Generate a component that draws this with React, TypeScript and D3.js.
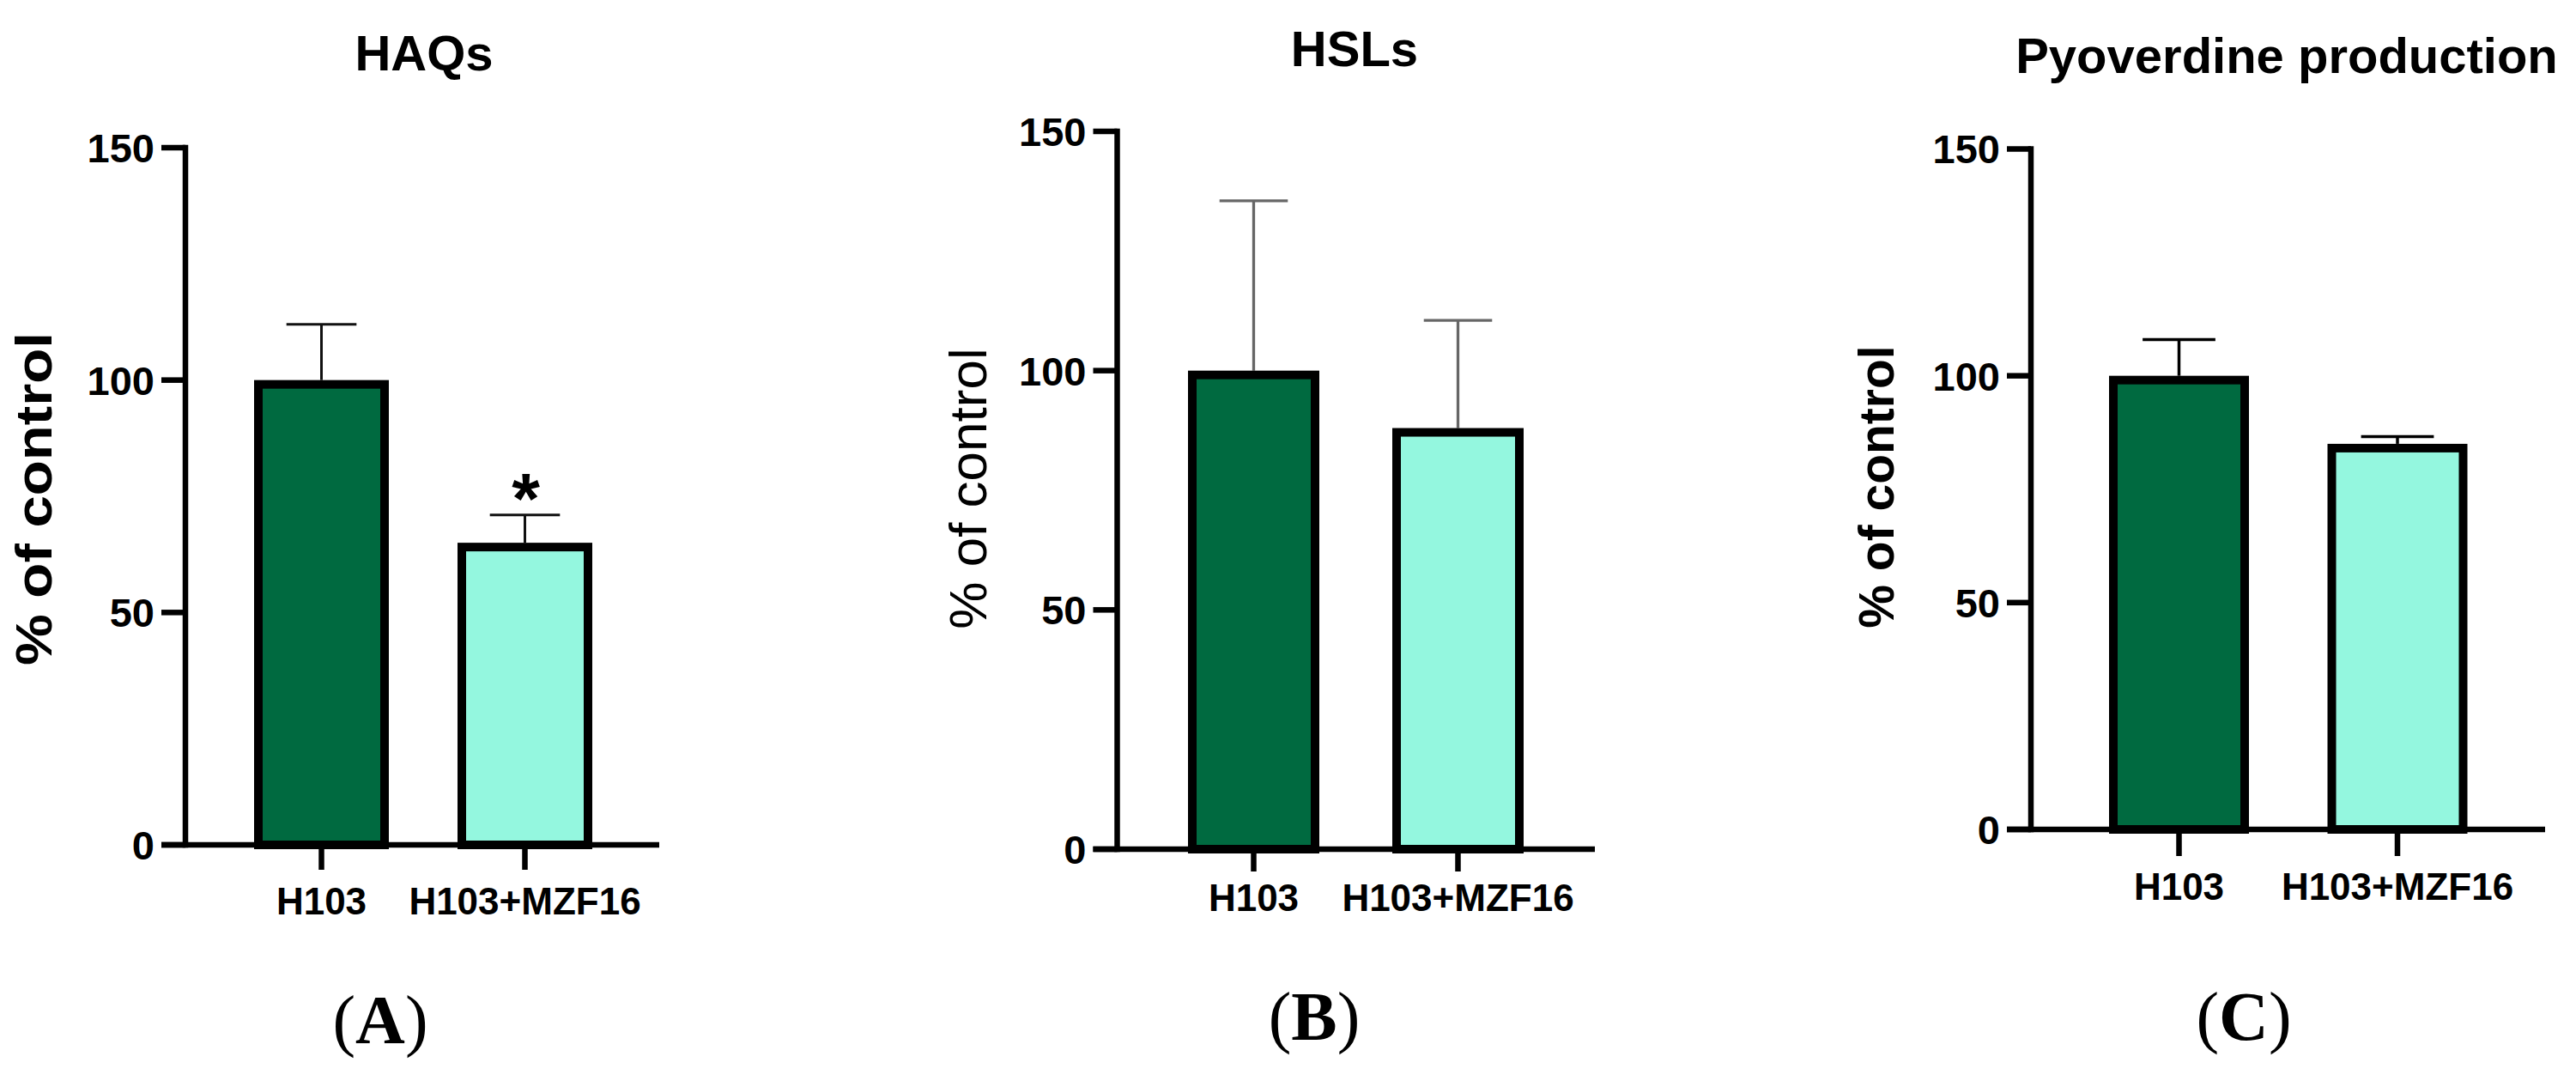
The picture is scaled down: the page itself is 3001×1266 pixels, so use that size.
import React from "react";
import { scaleLinear, scalePoint } from "d3";

const groups = ["H103", "H103+MZF16"];
const yTicks = [0, 50, 100, 150];

// HAQs
const haqsMean = [100, 65];
const haqsErr = [12, 6];
// HSLs
const hslsMean = [100, 88];
const hslsErr = [35.5, 22.5];
// Pyoverdine
const pyoMean = [100, 85];
const pyoErr = [8, 1.6];

const darkGreen = "#006a40";
const aqua = "#94f7df";
const font = "'Liberation Sans', Arial, sans-serif";

type PanelProps = {
  title: string;
  letter: string;
  means: number[];
  errs: number[];
  star?: boolean[];
  axisX: number;
  axisEnd: number;
  yTop: number;
  yZero: number;
  centers: [number, number];
  barW: number;
  titleX: number;
  titleY: number;
  yLab: { x: number; y: number; size: number; bold: boolean; length?: number };
  xLabY: number;
  tickDown: number;
  letterX: number;
  letterY: number;
  errColor: string;
  errW: number;
};

function Panel(p: PanelProps) {
  const y = scaleLinear().domain([0, 150]).range([p.yZero, p.yTop]);
  const x = scalePoint<string>().domain(groups).range(p.centers);
  const tickLen = 28;
  const axisW = 6.5;
  const fills = [darkGreen, aqua];
  return (
    <g>
      <text x={p.titleX} y={p.titleY} textAnchor="middle" fontFamily={font} fontWeight="bold" fontSize={58}>
        {p.title}
      </text>
      {/* bars */}
      {groups.map((g, i) => {
        const cx = x(g) as number;
        const w = p.barW - 10;
        return (
          <g key={g}>
            <line x1={cx} x2={cx} y1={y(p.means[i])} y2={y(p.means[i] + p.errs[i])} stroke={p.errColor} strokeWidth={p.errW} />
            <line x1={cx - p.barW * 0.26} x2={cx + p.barW * 0.26} y1={y(p.means[i] + p.errs[i])} y2={y(p.means[i] + p.errs[i])} stroke={p.errColor} strokeWidth={p.errW} />
            <rect x={cx - w / 2} y={y(p.means[i]) + 5} width={w} height={y(0) - y(p.means[i]) - 5} fill={fills[i]} stroke="#000" strokeWidth={10} />
            {p.star && p.star[i] && (
              <text x={cx + 1} y={y(p.means[i] + p.errs[i]) - 38 + 48} textAnchor="middle" fontFamily={font} fontWeight="bold" fontSize={84}>
                *
              </text>
            )}
            <line x1={cx} x2={cx} y1={y(0)} y2={y(0) + p.tickDown} stroke="#000" strokeWidth={axisW} />
            <text x={cx} y={p.xLabY} textAnchor="middle" fontFamily={font} fontWeight="bold" fontSize={44}>
              {g}
            </text>
          </g>
        );
      })}
      {/* y axis */}
      <line x1={p.axisX} x2={p.axisX} y1={y(150) - axisW / 2} y2={y(0) + axisW / 2} stroke="#000" strokeWidth={axisW} />
      <line x1={p.axisX - tickLen} x2={p.axisEnd} y1={y(0)} y2={y(0)} stroke="#000" strokeWidth={axisW} />
      {yTicks.map((t) => (
        <g key={t}>
          <line x1={p.axisX - tickLen} x2={p.axisX} y1={y(t)} y2={y(t)} stroke="#000" strokeWidth={axisW} />
          <text x={p.axisX - tickLen - 8} y={y(t)} dy="0.36em" textAnchor="end" fontFamily={font} fontWeight="bold" fontSize={47}>
            {t}
          </text>
        </g>
      ))}
      <text
        transform={`translate(${p.yLab.x},${p.yLab.y}) rotate(-90)`}
        dy="0.36em"
        textAnchor="middle"
        fontFamily={font}
        fontWeight={p.yLab.bold ? "bold" : "normal"}
        fontSize={p.yLab.size}
        textLength={p.yLab.length}
        lengthAdjust={p.yLab.length ? "spacingAndGlyphs" : undefined}
      >
        % of control
      </text>
      <text x={p.letterX} y={p.letterY} textAnchor="middle" fontFamily="'Liberation Serif', 'Times New Roman', serif" fontSize={80}>
        (<tspan fontWeight="bold">{p.letter}</tspan>)
      </text>
    </g>
  );
}

export default function App() {
  return (
    <svg width={3001} height={1266} style={{ position: "absolute", left: 0, top: 0, background: "#fff" }}>
      <rect width={3001} height={1266} fill="#fff" />
      <Panel
        title="HAQs"
        letter="A"
        means={haqsMean}
        errs={haqsErr}
        star={[false, true]}
        axisX={216}
        axisEnd={768}
        yTop={172}
        yZero={984}
        centers={[374.5, 611.5]}
        barW={157}
        titleX={494}
        titleY={82}
        yLab={{ x: 38, y: 581, size: 60, bold: true, length: 388 }}
        xLabY={1065}
        tickDown={29}
        letterX={443}
        letterY={1215}
        errColor="#111"
        errW={3}
      />
      <Panel
        title="HSLs"
        letter="B"
        means={hslsMean}
        errs={hslsErr}
        axisX={1301.5}
        axisEnd={1858}
        yTop={153}
        yZero={989}
        centers={[1460.5, 1698.5]}
        barW={153}
        titleX={1578}
        titleY={77}
        yLab={{ x: 1127, y: 569, size: 62, bold: false }}
        xLabY={1061}
        tickDown={26}
        letterX={1531}
        letterY={1211}
        errColor="#666"
        errW={3.3}
      />
      <Panel
        title="Pyoverdine production"
        letter="C"
        means={pyoMean}
        errs={pyoErr}
        axisX={2366}
        axisEnd={2965}
        yTop={173.5}
        yZero={966}
        centers={[2538.5, 2793]}
        barW={163}
        titleX={2664}
        titleY={85}
        yLab={{ x: 2185, y: 567, size: 57, bold: true }}
        xLabY={1048}
        tickDown={31}
        letterX={2614}
        letterY={1211}
        errColor="#000"
        errW={3.5}
      />
    </svg>
  );
}
